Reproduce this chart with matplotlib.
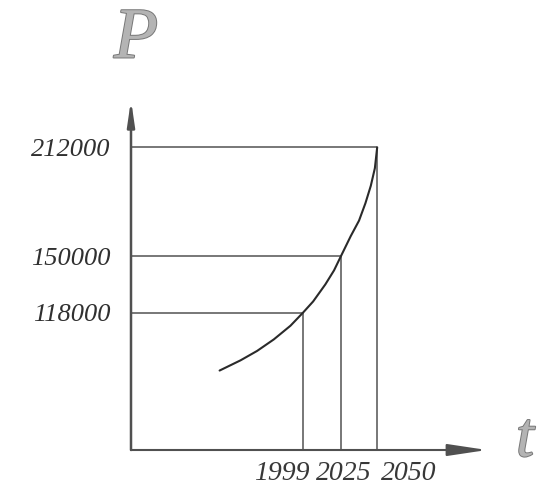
import matplotlib
matplotlib.use("Agg")
import matplotlib.pyplot as plt
import matplotlib.patheffects as pe
import numpy as np

# ---- data ----
years = [1999, 2025, 2050]
year_labels = ["1999", "2025", "2050"]
populations = [118000, 150000, 212000]
pop_labels = ["118000", "150000", "212000"]

curve_years = [1941.5, 1955.9, 1967.3, 1978.8, 1990.3, 1999, 2005.9, 2014.3,
               2020.3, 2025, 2031.8, 2037.5, 2041.9, 2045.6, 2048.4, 2050]
curve_pops = [85000, 90800, 96150, 102700, 110500, 118000, 124300, 134000,
              142000, 150000, 161500, 170300, 180200, 190100, 200100, 212000]

W, H = 538, 495
fig = plt.figure(figsize=(W / 100, H / 100), dpi=100)
fig.patch.set_facecolor("white")

ax = fig.add_axes([131 / W, (H - 450) / H, (487 - 131) / W, (450 - 100) / H])
ax.set_xlim(1880.5, 2125.6)
ax.set_ylim(39800, 238900)
for s in ax.spines.values():
    s.set_visible(False)
ax.set_facecolor("none")

serif = "Liberation Serif"
axis_col = "#505050"
line_col = "#606060"

# axes with arrows
ax.annotate("", xy=(1, 0), xytext=(0, 0), xycoords="axes fraction",
            textcoords="axes fraction",
            arrowprops=dict(arrowstyle="-|>,head_length=2.4,head_width=0.36",
                            color=axis_col, lw=1.5, shrinkA=0, shrinkB=0,
                            facecolor="#9a9a9a"))
ax.annotate("", xy=(0, 1), xytext=(0, 0), xycoords="axes fraction",
            textcoords="axes fraction",
            arrowprops=dict(arrowstyle="-|>,head_length=1.5,head_width=0.22",
                            color=axis_col, lw=1.8, shrinkA=0, shrinkB=0,
                            facecolor="#9a9a9a"))

x0, _ = ax.get_xlim()
y0, _ = ax.get_ylim()

# guide lines
for yr, p in zip(years, populations):
    ax.plot([x0, yr], [p, p], color=line_col, lw=1.2, solid_capstyle="butt")
    ax.plot([yr, yr], [y0, p], color=line_col, lw=1.2, solid_capstyle="butt")

# curve
ax.plot(curve_years, curve_pops, color="#2a2a2a", lw=1.5,
        solid_joinstyle="round", solid_capstyle="round")

# y tick labels
ax.set_xticks([])
ax.set_yticks(populations)
ax.set_yticklabels(pop_labels, fontfamily=serif, fontstyle="italic",
                   fontsize=19, color="#303030")
ax.tick_params(axis="y", length=0, pad=15)

# x labels (offset like the reference)
offsets = [(6, "right"), (3, "center"), (4, "left")]
for yr, lab, (dx, ha) in zip(years, year_labels, offsets):
    ax.annotate(lab, xy=(yr, y0), xytext=(dx, -24), textcoords="offset pixels",
                ha=ha, va="center", fontfamily=serif, fontstyle="italic",
                fontsize=20, color="#383838", annotation_clip=False)

# axis letters
outline = [pe.Stroke(linewidth=1.4, foreground="#777777"), pe.Normal()]
fig.text(136 / W, 1 - 40 / H, "P", fontfamily=serif, fontstyle="italic",
         fontsize=52, color="#b4b4b4", ha="center", va="center",
         path_effects=outline)
fig.text(525 / W, 1 - 441 / H, "t", fontfamily=serif, fontstyle="italic",
         fontsize=46, color="#b4b4b4", ha="center", va="center",
         path_effects=outline)

fig.savefig("out.png", dpi=100, facecolor="white")
